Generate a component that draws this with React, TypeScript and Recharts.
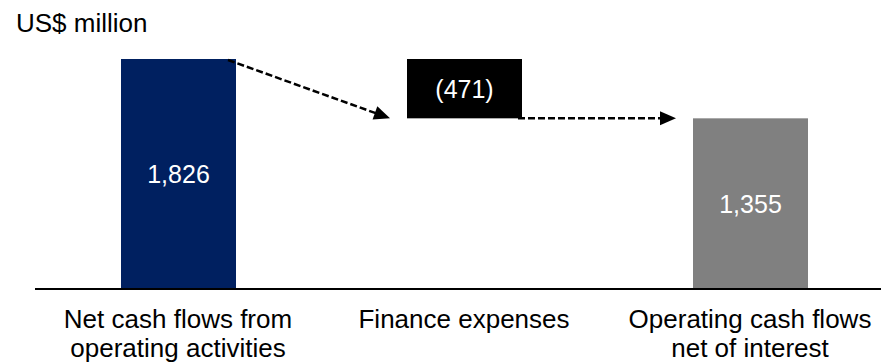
import React from 'react';
import { BarChart, Bar, XAxis, YAxis, Cell, LabelList } from 'recharts';

const categories = [
  'Net cash flows from\noperating activities',
  'Finance expenses',
  'Operating cash flows\nnet of interest',
];
const baseValues = [0, 1355, 0];
const barValues = [1826, 471, 1355];
const valueLabels = ['1,826', '(471)', '1,355'];

const barColors = ['#002060', '#000000', '#808080'];
const FONT = '"Liberation Sans", Arial, sans-serif';

const CHART_W = 893;
const CHART_H = 363;
const MARGIN = { top: 59, right: 0, bottom: 44, left: 35 };
const BAND = (CHART_W - MARGIN.left - MARGIN.right) / categories.length;

const data = categories.map((name, i) => ({
  name,
  base: baseValues[i],
  value: barValues[i],
  label: valueLabels[i],
}));

function arrow(x1: number, y1: number, x2: number, y2: number, key: string) {
  const dx = x2 - x1;
  const dy = y2 - y1;
  const len = Math.sqrt(dx * dx + dy * dy);
  const ux = dx / len;
  const uy = dy / len;
  const headLen = 16;
  const headHalf = 7;
  const bx = x2 - ux * headLen;
  const by = y2 - uy * headLen;
  const px = -uy;
  const py = ux;
  const pts = `${x2},${y2} ${bx + px * headHalf},${by + py * headHalf} ${bx - px * headHalf},${by - py * headHalf}`;
  return (
    <g key={key}>
      <line x1={x1} y1={y1} x2={bx + ux * 1} y2={by + uy * 1} stroke="#000" strokeWidth={2.5} strokeDasharray="7 3" />
      <polygon points={pts} fill="#000" />
    </g>
  );
}

const WaterfallShape = (props: any) => {
  const { x, y, width, height, fill, index } = props;
  const rect = <rect x={x} y={y} width={width} height={height} fill={fill} />;
  if (index !== 1) return rect;
  const prevRight = x - BAND + width;
  const bottom = y + height;
  return (
    <g>
      {rect}
      {arrow(prevRight - 8, y + 1, x - 17, bottom, 'a1')}
      {arrow(x + width - 4, bottom, x + BAND - 17, bottom, 'a2')}
    </g>
  );
};

const CategoryTick = (props: any) => {
  const { x, y, payload } = props;
  const lines = String(payload.value).split('\n');
  return (
    <text x={x} y={y} textAnchor="middle" fill="#000" fontSize={26} fontFamily={FONT}>
      {lines.map((ln, i) => (
        <tspan key={i} x={x} y={y + 39 + i * 29}>
          {ln}
        </tspan>
      ))}
    </text>
  );
};

export default function App() {
  return (
    <div style={{ position: 'absolute', left: 0, top: 0, width: 881, height: 363, overflow: 'hidden', background: '#fff' }}>
      <svg style={{ position: 'absolute', left: 0, top: 0 }} width={300} height={45}>
        <text x={16} y={32} fontSize={26} fontFamily={FONT} fill="#000">
          US$ million
        </text>
      </svg>
      <div style={{ position: 'absolute', left: 0, top: 0 }}>
        <BarChart width={CHART_W} height={CHART_H} data={data} margin={MARGIN}>
          <XAxis
            dataKey="name"
            axisLine={{ stroke: '#000', strokeWidth: 2 }}
            tickLine={false}
            tickSize={0}
            tickMargin={0}
            interval={0}
            tick={<CategoryTick />}
          />
          <YAxis hide domain={[0, 'dataMax']} />
          <Bar dataKey="base" stackId="w" fill="transparent" isAnimationActive={false} barSize={115} />
          <Bar dataKey="value" stackId="w" isAnimationActive={false} barSize={115} shape={<WaterfallShape />}>
            {data.map((d, i) => (
              <Cell key={i} fill={barColors[i]} />
            ))}
            <LabelList dataKey="label" position="center" fill="#fff" fontSize={25} fontFamily={FONT} />
          </Bar>
        </BarChart>
      </div>
    </div>
  );
}
